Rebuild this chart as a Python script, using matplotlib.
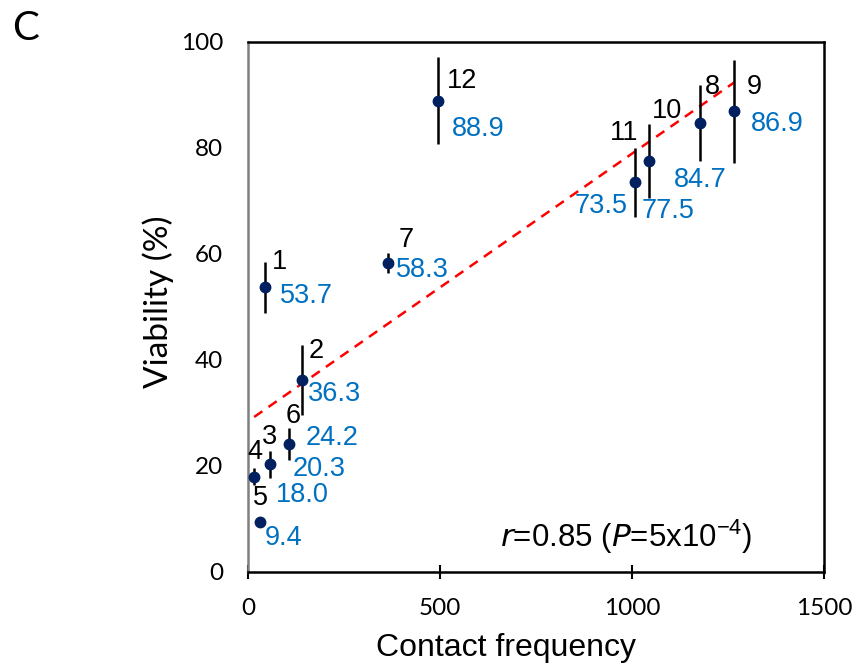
import numpy as np
import matplotlib
matplotlib.use("Agg")
import matplotlib.pyplot as plt

ids = ["1", "2", "3", "4", "5", "6", "7", "8", "9", "10", "11", "12"]
contact = [44, 141, 57, 16, 31, 107, 365, 1177, 1266, 1044, 1008, 495]
viability = [53.7, 36.3, 20.3, 18.0, 9.4, 24.2, 58.3, 84.7, 86.9, 77.5, 73.5, 88.9]
err = [4.8, 6.6, 2.5, 1.6, 0.0, 3.0, 1.9, 7.2, 9.7, 7.0, 6.5, 8.2]
value_labels = ["53.7", "36.3", "20.3", "18.0", "9.4", "24.2", "58.3", "84.7", "86.9", "77.5", "73.5", "88.9"]
xticks = [0, 500, 1000, 1500]
yticks = [0, 20, 40, 60, 80, 100]

# label offsets (pixels): (dx, dy, ha) for id and value labels
id_off = [(7, 25, "left"), (6, 29, "left"), (0, 27, "center"), (1, 25, "center"),
          (1, 24, "center"), (4, 28, "center"), (10, 23, "left"), (5, 36, "left"),
          (13, 24, "left"), (3, 50, "left"), (3, 49, "right"), (9, 20, "left")]
val_off = [(15, -9, "left"), (6, -14, "left"), (23, -5, "left"), (22, -18, "left"),
           (5, -16, "left"), (17, 6, "left"), (8, -7, "left"), (0, -57, "center"),
           (17, -13, "left"), (-7, -50, "left"), (-7, -24, "right"), (14, -28, "left")]

fig = plt.figure(figsize=(8.54, 6.66), dpi=100)
ax = fig.add_axes([248/854, 1-572/666, (824-248)/854, (572-42)/666])

ax.errorbar(contact, viability, yerr=err, fmt="none", ecolor="black", elinewidth=1.8, capsize=0, zorder=2)
ax.plot(contact, viability, "o", color="#002060", markersize=7.5, zorder=3)

# linear trendline
coef = np.polyfit(contact, viability, 1)
xs = np.array([min(contact), max(contact)])
ax.plot(xs, np.polyval(coef, xs), "--", color="#FF0000", lw=1.8, dashes=(4, 3), zorder=1)

lab_font = dict(family="Liberation Sans", fontsize=19.5)
for i in range(len(ids)):
    dx, dy, ha = id_off[i]
    ax.annotate(ids[i], (contact[i], viability[i]), xytext=(dx, dy), textcoords="offset pixels",
                ha=ha, va="center", color="black", **lab_font)
    dx, dy, ha = val_off[i]
    ax.annotate(value_labels[i], (contact[i], viability[i]), xytext=(dx, dy), textcoords="offset pixels",
                ha=ha, va="center", color="#0070C0", **lab_font)

fig.text(500/854, 1-537/666, r"$\mathit{r}$=0.85 ($\mathit{P}$=5x10$^{\mathregular{-4}}$)",
         ha="left", va="center", family="Liberation Sans", fontsize=22.5)

ax.set_xlim(0, 1500)
ax.set_ylim(0, 100)
ax.set_xticks(xticks)
ax.set_yticks(yticks)
ax.tick_params(axis="x", direction="inout", length=10, width=1.5, labelsize=17.5, pad=14)
ax.tick_params(axis="y", length=0, labelsize=17.5, pad=18)
for lab in ax.get_xticklabels() + ax.get_yticklabels():
    lab.set_family("Lato")

for s in ["top", "right", "bottom"]:
    ax.spines[s].set_color("black")
    ax.spines[s].set_linewidth(1.8)
ax.spines["left"].set_color("#808080")
ax.spines["left"].set_linewidth(1.8)

ax.set_xlabel("Contact frequency", family="Liberation Sans", fontsize=23)
ax.xaxis.set_label_coords((506-248)/576, -(648-572)/530)
ax.xaxis.label.set_va("center")
ax.set_ylabel("Viability (%)", family="Lato", fontsize=24)
ax.yaxis.set_label_coords(-(248-158)/576, (572-302)/530)
ax.yaxis.label.set_va("center")

fig.text(12/854, 1-29/666, "C", family="Lato", fontsize=29, ha="left", va="center")

fig.savefig("out.png", dpi=100)
